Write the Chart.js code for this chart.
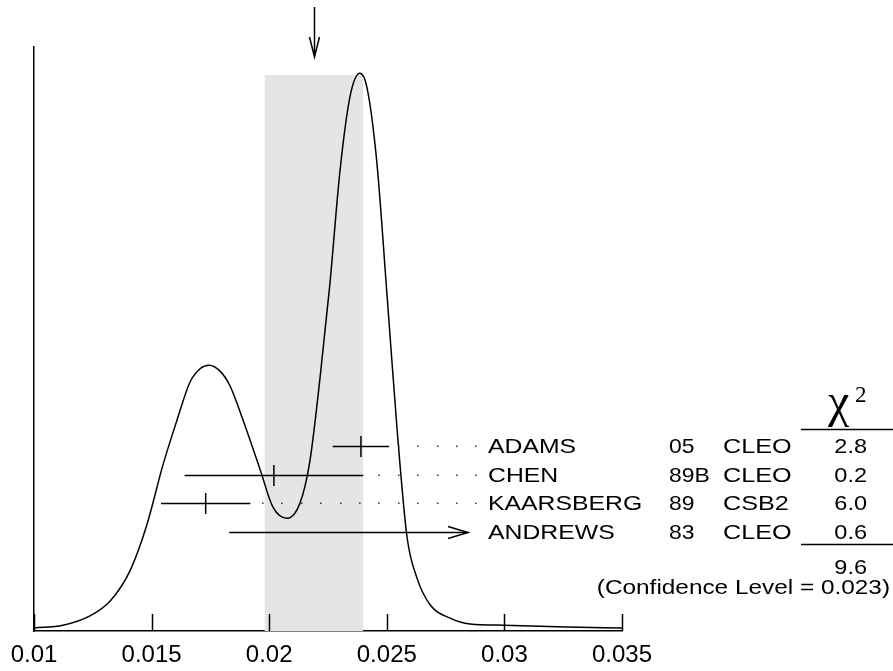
<!DOCTYPE html>
<html lang="en">
<head>
  <meta charset="UTF-8">
  <title>Ideogram</title>
  <script src="https://cdn.jsdelivr.net/npm/chart.js"></script>
  <style>
    body { margin: 0; background: #fff; }
    canvas { display: block; }
  </style>
</head>
<body>
  <canvas id="ideogram" width="893" height="671"></canvas>
  <script>
    // axis
    const xTicks = [0.01, 0.015, 0.02, 0.025, 0.03, 0.035];

    // ideogram curve (arbitrary height units, 100 = top of frame)
    const curveX = [0.0100, 0.01123, 0.01238, 0.01323, 0.01408, 0.01480, 0.01548, 0.01608, 0.01663, 0.01706,
                    0.01744, 0.01791, 0.01833, 0.01889, 0.01961, 0.02016, 0.02076, 0.02131, 0.02173, 0.02216,
                    0.02258, 0.02301, 0.02344, 0.02386, 0.02416, 0.02458, 0.02501, 0.02543, 0.02586, 0.02628,
                    0.02684, 0.02769, 0.02854, 0.02998, 0.03266, 0.0350];
    const curveY = [0.5, 1.0, 2.6, 5.1, 10.3, 18.2, 28.4, 36.1, 42.6, 44.9,
                    45.5, 44.5, 42.0, 36.1, 27.7, 21.2, 19.3, 21.9, 29.1, 43.3,
                    59.4, 78.8, 91.6, 95.5, 93.0, 80.1, 57.5, 34.9, 16.1, 9.1,
                    4.5, 2.2, 1.2, 1.0, 0.7, 0.5];

    // weighted average
    const avgValue = 0.0219;
    const avgError = 0.0021;
    const bandTop = 95.2;

    // measurements
    const authors = ['ADAMS', 'CHEN', 'KAARSBERG', 'ANDREWS'];
    const years = ['05', '89B', '89', '83'];
    const experiments = ['CLEO', 'CLEO', 'CSB2', 'CLEO'];
    const values = [0.0239, 0.0202, 0.0173, 0.0345];
    const errors = [0.0012, 0.0038, 0.0019, 0.0162];
    const chi2 = ['2.8', '0.2', '6.0', '0.6'];
    const chi2Total = '9.6';
    const confLevel = '0.023';

    const SANS = '"Liberation Sans", Arial, Helvetica, sans-serif';
    const SERIF = '"Liberation Serif", "Times New Roman", serif';

    // text in the source is a bit wider than Arial, so stretch it horizontally
    function stretchText(ctx, text, x, y, align, sx) {
      ctx.save();
      ctx.translate(x, y);
      ctx.scale(sx, 1);
      ctx.textAlign = align;
      ctx.fillText(text, 0, 0);
      ctx.restore();
    }

    const overlay = {
      id: 'overlay',
      afterDatasetsDraw(chart) {
        const ctx = chart.ctx;
        const xs = chart.scales.x;
        const area = chart.chartArea;
        ctx.save();
        ctx.strokeStyle = '#000';
        ctx.fillStyle = '#000';
        ctx.lineWidth = 1.5;

        // inward tick marks
        xTicks.forEach(v => {
          const px = Math.round(xs.getPixelForValue(v)) + 0.5;
          ctx.beginPath();
          ctx.moveTo(px, area.bottom);
          ctx.lineTo(px, area.bottom - 17);
          ctx.stroke();
        });

        // weighted average arrow
        const ax = Math.round(xs.getPixelForValue(avgValue)) + 0.5;
        ctx.beginPath();
        ctx.moveTo(ax, 7);
        ctx.lineTo(ax, 57);
        ctx.moveTo(ax - 5, 37);
        ctx.lineTo(ax, 57);
        ctx.lineTo(ax + 5, 37);
        ctx.stroke();

        // error bars + dotted leaders
        const rowTop = 446, rowStep = 28.7;
        const labelX = 488, barLimit = 468;
        values.forEach((v, i) => {
          const y = Math.round(rowTop + i * rowStep) + 0.5;
          const lo = xs.getPixelForValue(v - errors[i]);
          let hi = xs.getPixelForValue(v + errors[i]);
          const c = xs.getPixelForValue(v);
          const clipped = hi > barLimit;
          if (clipped) hi = barLimit;
          ctx.lineWidth = 1.5;
          ctx.beginPath();
          ctx.moveTo(lo, y);
          ctx.lineTo(hi, y);
          ctx.stroke();
          if (c <= hi) {
            ctx.beginPath();
            ctx.moveTo(c, y - 10.5);
            ctx.lineTo(c, y + 10.5);
            ctx.stroke();
          }
          if (clipped) {
            ctx.beginPath();
            ctx.moveTo(hi - 20, y - 6);
            ctx.lineTo(hi, y);
            ctx.lineTo(hi - 20, y + 6);
            ctx.stroke();
          } else {
            ctx.fillStyle = '#444';
            for (let d = 262; d < 480; d += 19.4) {
              if (d > hi + 8) ctx.fillRect(Math.round(d), y - 1, 1.6, 1.6);
            }
            ctx.fillStyle = '#000';
          }

          ctx.font = '21px ' + SANS;
          ctx.textBaseline = 'middle';
          stretchText(ctx, authors[i], labelX, y + 1, 'left', 1.18);
          stretchText(ctx, years[i], 669, y + 1, 'left', 1.09);
          stretchText(ctx, experiments[i], 723, y + 1, 'left', 1.2);
          stretchText(ctx, chi2[i], 867, y + 1, 'right', 1.12);
        });

        // chi2 column header and sum
        ctx.lineWidth = 1.5;
        ctx.beginPath();
        ctx.moveTo(801, 429.5);
        ctx.lineTo(893, 429.5);
        ctx.moveTo(801, 544.5);
        ctx.lineTo(893, 544.5);
        ctx.stroke();

        ctx.textAlign = 'left';
        ctx.textBaseline = 'alphabetic';
        ctx.font = '48px ' + SERIF;
        ctx.fillText('\u03c7', 828, 417);
        ctx.font = '23px ' + SERIF;
        ctx.fillText('2', 855, 402);

        ctx.font = '21px ' + SANS;
        ctx.textBaseline = 'middle';
        stretchText(ctx, chi2Total, 867, 568, 'right', 1.12);
        stretchText(ctx, '(Confidence Level = ' + confLevel + ')', 890, 588, 'right', 1.16);

        ctx.restore();
      }
    };

    new Chart(document.getElementById('ideogram'), {
      type: 'line',
      data: {
        datasets: [
          {
            data: curveX.map((x, i) => ({ x, y: curveY[i] })),
            borderColor: '#000',
            borderWidth: 1.5,
            pointRadius: 0,
            fill: false,
            cubicInterpolationMode: 'monotone',
            order: 1
          },
          {
            data: [{ x: avgValue - avgError, y: bandTop }, { x: avgValue + avgError, y: bandTop }],
            borderWidth: 0,
            borderColor: 'rgba(0,0,0,0)',
            backgroundColor: '#e5e5e5',
            pointRadius: 0,
            fill: 'origin',
            order: 2
          }
        ]
      },
      options: {
        responsive: false,
        animation: false,
        layout: { padding: { left: 34, right: 271, top: 47, bottom: 0 } },
        plugins: { legend: { display: false }, tooltip: { enabled: false } },
        scales: {
          x: {
            type: 'linear',
            min: 0.01,
            max: 0.035,
            afterBuildTicks: s => { s.ticks = xTicks.map(v => ({ value: v })); },
            afterFit: s => { s.height = 40; },
            grid: { display: false, drawTicks: false },
            border: { display: true, color: '#000', width: 1.5 },
            ticks: {
              padding: 10,
              color: '#000',
              maxRotation: 0,
              autoSkip: false,
              font: { family: SANS, size: 24 },
              callback: v => Number(v.toFixed(3)).toString()
            }
          },
          y: {
            min: 0,
            max: 100,
            afterFit: s => { s.width = 0; },
            grid: { display: false, drawTicks: false },
            border: { display: true, color: '#000', width: 1.5 },
            ticks: { display: false }
          }
        }
      },
      plugins: [overlay]
    });
  </script>
</body>
</html>
